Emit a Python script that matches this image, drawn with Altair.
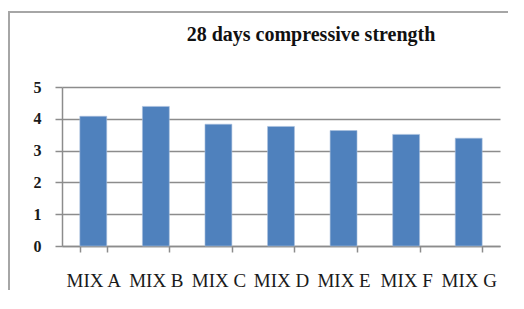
import altair as alt
import pandas as pd

mixes = ["MIX A", "MIX B", "MIX C", "MIX D", "MIX E", "MIX F", "MIX G"]
strength = [4.08, 4.39, 3.83, 3.76, 3.63, 3.51, 3.39]
y_ticks = [0, 1, 2, 3, 4, 5]
title_text = "28 days compressive strength"

df = pd.DataFrame({"mix": mixes, "strength": strength})

W, H = 438, 159
PAD_L, PAD_T = 54, 79

bars = alt.Chart(df).mark_bar(color="#4f81bd", stroke="#a9c0de", strokeWidth=0.6).encode(
    x=alt.X("mix:N", sort=mixes,
            scale=alt.Scale(paddingInner=0.57, paddingOuter=0.285),
            axis=alt.Axis(title=None, labelAngle=0, tickBand="extent",
                          labelFont="Liberation Serif", labelFontSize=19,
                          labelColor="#1a1a1a", labelPadding=19,
                          tickSize=6, tickColor="#8c8c8c", tickWidth=1.5,
                          domainColor="#8c8c8c", domainWidth=1.5, grid=False)),
    y=alt.Y("strength:Q",
            scale=alt.Scale(domain=[0, 5], nice=False),
            axis=alt.Axis(title=None, values=y_ticks, format="d",
                          labelFont="Liberation Serif", labelFontSize=16,
                          labelFontWeight="bold", labelColor="#1a1a1a",
                          labelPadding=14, tickSize=7, tickColor="#8c8c8c",
                          tickWidth=1.5, domainColor="#8c8c8c", domainWidth=1.5,
                          grid=True, gridColor="#8c8c8c", gridWidth=1.5)),
)

border_df = pd.DataFrame({"k": [0]})
border = alt.Chart(border_df).mark_rect(
    fill=None, fillOpacity=0, stroke="#a6a6a6", strokeWidth=2, clip=False
).encode(
    x=alt.value(-53), x2=alt.value(520), y=alt.value(-75), y2=alt.value(300)
)
title_df = pd.DataFrame({"t": [title_text]})
title = alt.Chart(title_df).mark_text(
    font="Liberation Serif", fontSize=20, fontWeight="bold", color="#111111",
    align="center", baseline="alphabetic", clip=False
).encode(text="t:N", x=alt.value(W / 2 + 30), y=alt.value(-46))

chart = alt.layer(border, title, bars).properties(
    width=W, height=H,
    autosize=alt.AutoSizeParams(type="none"),
    padding={"left": PAD_L, "top": PAD_T, "right": 8, "bottom": 44},
).configure_view(stroke=None)

chart.save("out.html", embed_options={"renderer": "svg", "actions": False})
